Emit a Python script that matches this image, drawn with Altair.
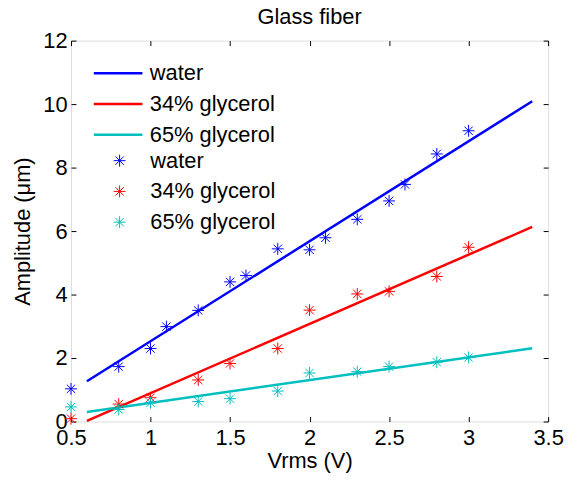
import altair as alt
import pandas as pd

series = ["water", "34% glycerol", "65% glycerol"]
colors = ["#0000FF", "#FF0000", "#00BFBF"]

# measured points
vrms_water = [0.5, 0.8, 1.0, 1.1, 1.3, 1.5, 1.6, 1.8, 2.0, 2.1, 2.3, 2.5, 2.6, 2.8, 3.0]
amp_water = [1.03, 1.73, 2.3, 2.99, 3.5, 4.4, 4.6, 5.44, 5.41, 5.79, 6.37, 6.95, 7.47, 8.43, 9.16]

vrms_gly34 = [0.5, 0.8, 1.0, 1.3, 1.5, 1.8, 2.0, 2.3, 2.5, 2.8, 3.0]
amp_gly34 = [0.09, 0.55, 0.75, 1.31, 1.83, 2.3, 3.51, 4.02, 4.1, 4.57, 5.49]

vrms_gly65 = [0.5, 0.8, 1.0, 1.3, 1.5, 1.8, 2.0, 2.3, 2.5, 2.8, 3.0]
amp_gly65 = [0.46, 0.38, 0.59, 0.63, 0.72, 0.96, 1.53, 1.57, 1.73, 1.87, 2.02]

# fitted lines
fit_vrms = [0.6, 3.4]
fit_water = [1.27, 10.09]
fit_gly34 = [0.02, 6.13]
fit_gly65 = [0.30, 2.31]

x_ticks = [0.5, 1.0, 1.5, 2.0, 2.5, 3.0, 3.5]
y_ticks = [0, 2, 4, 6, 8, 10, 12]

W, H = 481, 384
FONT = "Liberation Sans"
FS = 22
STAR = "M0,-1L0,1M-1,0L1,0M-0.7,-0.7L0.7,0.7M-0.7,0.7L0.7,-0.7"

pts = pd.concat([
    pd.DataFrame({"Vrms": vrms_water, "Amp": amp_water, "series": series[0]}),
    pd.DataFrame({"Vrms": vrms_gly34, "Amp": amp_gly34, "series": series[1]}),
    pd.DataFrame({"Vrms": vrms_gly65, "Amp": amp_gly65, "series": series[2]}),
])
fits = pd.concat([
    pd.DataFrame({"Vrms": fit_vrms, "Amp": fit_water, "series": series[0]}),
    pd.DataFrame({"Vrms": fit_vrms, "Amp": fit_gly34, "series": series[1]}),
    pd.DataFrame({"Vrms": fit_vrms, "Amp": fit_gly65, "series": series[2]}),
])

xscale = alt.Scale(domain=[0.5, 3.5], nice=False, zero=False)
yscale = alt.Scale(domain=[0, 12], nice=False)

tick_common = dict(labels=False, domain=False, ticks=True, tickSize=5, tickColor="black",
                   tickWidth=1, grid=False, title=None)
text_common = dict(labelFont=FONT, titleFont=FONT, labelFontSize=FS, titleFontSize=FS,
                   labelColor="black", titleColor="black", titleFontWeight="normal",
                   labelFontWeight="normal")

lines = alt.Chart(fits).mark_line(strokeWidth=2.5).encode(
    x=alt.X("Vrms:Q", scale=xscale,
            axis=alt.Axis(orient="bottom", values=x_ticks, format="~g", ticks=False, domain=False,
                          grid=False, labelPadding=6, labelOverlap=False, labelFlush=False,
                          title="Vrms (V)", titlePadding=2, **text_common)),
    y=alt.Y("Amp:Q", scale=yscale,
            axis=alt.Axis(orient="left", values=y_ticks, format="~g", ticks=False, domain=False,
                          grid=False, labelPadding=4, labelOverlap=False, labelFlush=False,
                          title="Amplitude (μm)", titlePadding=8, **text_common)),
    color=alt.Color("series:N", sort=series, scale=alt.Scale(domain=series, range=colors),
                    legend=alt.Legend(title=None, orient="none", legendX=21.5, legendY=23,
                                      symbolType="stroke", symbolSize=2401, symbolStrokeWidth=2.5,
                                      labelOffset=6, clipHeight=20, rowPadding=9, padding=0,
                                      labelFontSize=FS, labelFont=FONT, labelColor="black")),
    detail="series:N",
)

points = alt.Chart(pts).mark_point(shape=STAR, filled=False, size=144, strokeWidth=1, opacity=1).encode(
    x=alt.X("Vrms:Q", scale=xscale,
            axis=alt.Axis(orient="top", offset=-H, values=x_ticks, **tick_common)),
    y=alt.Y("Amp:Q", scale=yscale,
            axis=alt.Axis(orient="right", offset=-W, values=y_ticks, **tick_common)),
    color=alt.Color("series:N", sort=series, scale=alt.Scale(domain=series, range=colors),
                    legend=alt.Legend(title=None, orient="none", legendX=38, legendY=111,
                                      symbolType=STAR, symbolSize=144, symbolStrokeWidth=1,
                                      labelOffset=20, clipHeight=20, rowPadding=9, padding=0,
                                      labelFontSize=FS, labelFont=FONT, labelColor="black")),
)

ghost = alt.Chart(pts).mark_point(opacity=0).encode(
    x=alt.X("Vrms:Q", scale=xscale,
            axis=alt.Axis(orient="bottom", offset=-H, values=x_ticks, **tick_common)),
    y=alt.Y("Amp:Q", scale=yscale,
            axis=alt.Axis(orient="left", offset=-W, values=y_ticks, **tick_common)),
)

chart = alt.layer(lines, points, ghost).resolve_scale(
    color="independent"
).resolve_axis(
    x="independent", y="independent"
).properties(
    width=W, height=H,
    title=alt.TitleParams("Glass fiber", fontSize=22, font=FONT, fontWeight="normal",
                          color="black", anchor="middle", offset=1),
    autosize=alt.AutoSizeParams(type="none"),
    padding={"left": 63.5, "top": 31, "right": 16, "bottom": 50},
).configure_view(
    stroke="black", strokeWidth=1,
).configure(background="white")

chart.save("out.html", embed_options={"renderer": "svg", "actions": False})
